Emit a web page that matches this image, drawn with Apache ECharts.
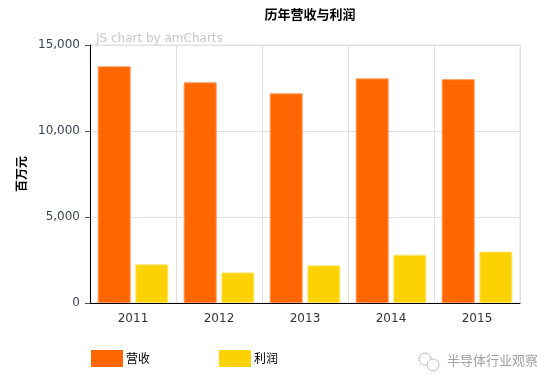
<!DOCTYPE html>
<html><head><meta charset="utf-8">
<script src="https://cdn.jsdelivr.net/npm/echarts@6/dist/echarts.min.js"></script>
<style>html,body{margin:0;padding:0;background:#fff}#c{width:554px;height:390px}</style>
</head><body><div id="c"></div>
<script>
const categories = ['2011','2012','2013','2014','2015'];
const revenue = [13760, 12830, 12190, 13060, 13010];
const profit = [2250, 1780, 2190, 2810, 2990];
const yTicks = [0, 5000, 10000, 15000];

const font = '"DejaVu Sans", "Noto Sans CJK SC", sans-serif';
const chart = echarts.init(document.getElementById('c'), null, {renderer: 'canvas'});
chart.setOption({
  animation: false,
  textStyle: {fontFamily: font},
  title: {
    text: '历年营收与利润', left: 305, top: 3, textAlign: 'center',
    textStyle: {fontSize: 13, fontWeight: 'bold', color: '#000', fontFamily: '"Noto Sans CJK SC", sans-serif'}
  },
  legend: {
    left: 86, top: 345, itemWidth: 32, itemHeight: 17, itemGap: 69,
    icon: 'rect',
    itemStyle: {borderWidth: 0},
    textStyle: {fontSize: 12, color: '#000', fontFamily: '"Noto Sans CJK SC", sans-serif', padding: [0,0,0,-2]}
  },
  grid: {left: 90, right: 34, top: 45, bottom: 87, show: true, borderColor: '#e0e0e0', borderWidth: 1},
  xAxis: {
    type: 'category', data: categories,
    axisLine: {lineStyle: {color: '#000'}},
    axisTick: {alignWithLabel: true, length: 5, lineStyle: {color: '#555'}},
    splitLine: {show: true, lineStyle: {color: '#e0e0e0'}},
    axisLabel: {fontSize: 12, color: '#333', margin: 10, fontFamily: font}
  },
  yAxis: {
    type: 'value', min: 0, max: 15000, interval: 5000,
    name: '百万元', nameLocation: 'middle', nameGap: 48, nameRotate: 90,
    nameTextStyle: {fontSize: 12, fontWeight: 'bold', color: '#000', fontFamily: '"Noto Sans CJK SC", sans-serif'},
    axisLine: {show: true, lineStyle: {color: '#000'}},
    axisTick: {show: true, length: 5, lineStyle: {color: '#555'}},
    splitLine: {lineStyle: {color: '#e0e0e0'}},
    axisLabel: {fontSize: 12, color: '#3a4656', margin: 10, fontFamily: font,
      formatter: v => yTicks.includes(v) ? v.toLocaleString('en-US') : ''}
  },
  series: [
    {name: '营收', type: 'bar', data: revenue, barWidth: 33, barGap: '14%',
     itemStyle: {color: '#FF6600', borderColor: '#ff9a5c', borderWidth: 1}},
    {name: '利润', type: 'bar', data: profit, barWidth: 33,
     itemStyle: {color: '#FCD202', borderColor: '#fde77a', borderWidth: 1}}
  ],
  graphic: [
    {type: 'text', left: 96, top: 33, style: {text: 'JS chart by amCharts', fill: '#c8c8c8', font: '12px ' + font}},
    {type: 'text', left: 447, top: 354, style: {text: '半导体行业观察', fill: '#a0a0a0', font: '13px "Noto Sans CJK SC", sans-serif'}},
    {type: 'circle', shape: {cx: 425, cy: 359, r: 6}, style: {fill: 'none', stroke: '#bbb', lineWidth: 1}},
    {type: 'circle', shape: {cx: 433, cy: 365, r: 6}, style: {fill: '#fff', stroke: '#bbb', lineWidth: 1}}
  ]
});
</script></body></html>
